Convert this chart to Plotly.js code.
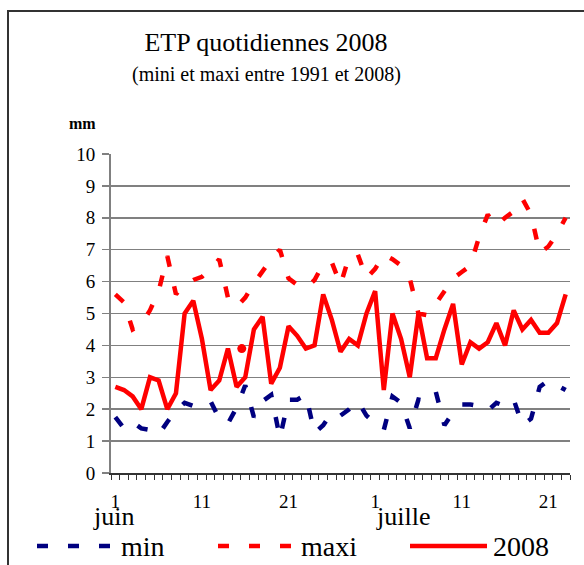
<!DOCTYPE html>
<html>
<head>
<meta charset="utf-8">
<script src="https://cdn.plot.ly/plotly-3.0.1.min.js"></script>
<style>
html,body{margin:0;padding:0;background:#fff;overflow:hidden;}
#wrap{position:relative;width:584px;height:565px;}
#chart{width:584px;height:565px;}
#frame{position:absolute;left:7px;top:10px;width:700px;height:700px;border:2px solid #333;pointer-events:none;}
</style>
</head>
<body>
<div id="wrap"><div id="chart"></div><div id="frame"></div></div>
<script>
// Day number from 1 June (1) to 23 July (53)
const day = [1,2,3,4,5,6,7,8,9,10,11,12,13,14,15,16,17,18,19,20,21,22,23,24,25,26,27,28,29,30,
             31,32,33,34,35,36,37,38,39,40,41,42,43,44,45,46,47,48,49,50,51,52,53];
const etp2008 = [2.7,2.6,2.4,2.0,3.0,2.9,2.0,2.5,5.0,5.4,4.2,2.6,2.9,3.9,2.7,3.0,4.5,4.9,2.8,3.3,
                 4.6,4.3,3.9,4.0,5.6,4.8,3.8,4.2,4.0,5.0,5.7,2.6,5.0,4.2,3.0,5.0,3.6,3.6,4.5,5.3,
                 3.4,4.1,3.9,4.1,4.7,4.0,5.1,4.5,4.8,4.4,4.4,4.7,5.6];
const etpMaxi = [5.6,5.35,4.5,4.65,5.1,5.7,6.8,5.6,5.9,6.05,6.15,6.4,6.7,5.5,5.2,5.5,5.95,6.35,6.7,7.0,
                 6.1,5.9,5.8,6.05,6.55,6.6,5.9,6.8,6.85,6.1,6.4,6.85,6.7,6.5,6.1,5.0,4.95,5.3,5.7,6.1,
                 6.3,6.5,7.4,8.1,7.75,8.0,8.2,8.6,8.1,6.9,7.1,7.5,8.0];
const etpMin = [1.75,1.4,1.6,1.4,1.35,1.2,1.6,1.95,2.2,2.1,2.2,2.25,1.7,1.55,2.05,2.75,1.75,2.25,2.45,1.1,
                2.3,2.3,2.45,1.25,1.5,1.9,1.8,2.0,2.25,1.8,1.55,1.35,2.4,2.2,1.4,2.3,2.25,2.55,1.5,1.9,
                2.15,2.15,2.1,1.95,2.2,2.1,2.3,1.5,1.7,2.7,2.9,2.75,2.6];
// isolated red dot seen in the chart
const dotDay = [15.6];
const dotValue = [3.9];
// axis labels
const labelDays = [1,11,21,31,41,51];
const labelText = ["1","11","21","1","11","21"];
const monthDays = [1,31];
const monthText = ["juin","juille"];
const seriesNames = ["min","maxi","2008"];

const SERIF = "Liberation Serif, Times New Roman, serif";
const NAVY = "#000080", RED = "#ff0000";

const traces = [
  {x: day, y: etpMin, type:'scatter', mode:'lines', name: seriesNames[0],
   line:{color:NAVY, width:4.5, dash:'11px,20px'}},
  {x: day, y: etpMaxi, type:'scatter', mode:'lines', name: seriesNames[1],
   line:{color:RED, width:4.5, dash:'11px,20px'}},
  {x: day, y: etp2008, type:'scatter', mode:'lines', name: seriesNames[2],
   line:{color:RED, width:4.5}},
  {x: dotDay, y: dotValue, type:'scatter', mode:'markers', showlegend:false,
   marker:{color:RED, size:9}}
];

// plot area in pixels: left 111, right 570, top 154, bottom 473
const L=111, R=570, T=154, B=473;
const px = X => (X-L)/(R-L);
const py = Y => (B-Y)/(B-T);

const legY = py(546);
const shapes = [
  {type:'line', xref:'paper', yref:'paper', x0:px(37), x1:px(111), y0:legY, y1:legY,
   line:{color:NAVY, width:4.5, dash:'11px,20px'}},
  {type:'line', xref:'paper', yref:'paper', x0:px(218), x1:px(292), y0:legY, y1:legY,
   line:{color:RED, width:4.5, dash:'11px,20px'}},
  {type:'line', xref:'paper', yref:'paper', x0:px(410), x1:px(487), y0:legY, y1:legY,
   line:{color:RED, width:4.5}}
];

const annotations = [
  {text:'(mini et maxi entre 1991 et 2008)', xref:'paper', yref:'paper', x:px(266), y:py(75),
   xanchor:'center', yanchor:'middle', showarrow:false, font:{family:SERIF, size:20, color:'#000'}},
  {text:'<b>mm</b>', xref:'paper', yref:'paper', x:px(82), y:py(123),
   xanchor:'center', yanchor:'middle', showarrow:false, font:{family:SERIF, size:16, color:'#000'}},
  {text:monthText[0], xref:'x', yref:'paper', x:monthDays[0], y:py(516), xshift:-2,
   xanchor:'center', yanchor:'middle', showarrow:false, font:{family:SERIF, size:26, color:'#000'}},
  {text:monthText[1], xref:'x', yref:'paper', x:monthDays[1], y:py(516), xshift:-1,
   xanchor:'left', yanchor:'middle', showarrow:false, font:{family:SERIF, size:26, color:'#000'}},
  {text:seriesNames[0], xref:'paper', yref:'paper', x:px(119), y:legY,
   xanchor:'left', yanchor:'middle', showarrow:false, font:{family:SERIF, size:28, color:'#000'}},
  {text:seriesNames[1], xref:'paper', yref:'paper', x:px(299), y:legY,
   xanchor:'left', yanchor:'middle', showarrow:false, font:{family:SERIF, size:28, color:'#000'}},
  {text:seriesNames[2], xref:'paper', yref:'paper', x:px(491), y:legY,
   xanchor:'left', yanchor:'middle', showarrow:false, font:{family:SERIF, size:28, color:'#000'}}
];

const layout = {
  width:584, height:565,
  margin:{l:L, r:584-R, t:T, b:565-B, pad:0},
  paper_bgcolor:'#fff', plot_bgcolor:'#fff',
  showlegend:false,
  title:{text:'ETP quotidiennes 2008', font:{family:SERIF, size:26, color:'#000'},
         x:266/584, xref:'container', xanchor:'center', y:1-42/565, yref:'container', yanchor:'middle'},
  xaxis:{range:[0.5,53.5], tickmode:'array', tickvals:labelDays, ticktext:labelText,
         ticks:'outside', ticklen:11, tickcolor:'rgba(0,0,0,0)',
         showgrid:false, zeroline:false, showline:true, linecolor:'#333', linewidth:1.5,
         tickfont:{family:SERIF, size:19, color:'#000'},
         minor:{tickmode:'linear', tick0:0.5, dtick:1, ticks:'outside', ticklen:5, tickcolor:'#333', tickwidth:1, showgrid:false},
         fixedrange:true},
  yaxis:{range:[0,10], tickmode:'linear', tick0:0, dtick:1, ticks:'outside', ticklen:7,
         tickcolor:'#808080', tickwidth:1.5, showgrid:true, gridcolor:'#808080', gridwidth:1.5,
         zeroline:false, showline:true, linecolor:'#808080', linewidth:2, ticklabelstandoff:3,
         tickfont:{family:SERIF, size:19, color:'#000'}, fixedrange:true},
  shapes:shapes,
  annotations:annotations
};

Plotly.newPlot('chart', traces, layout, {displayModeBar:false, staticPlot:true});
</script>
</body>
</html>
